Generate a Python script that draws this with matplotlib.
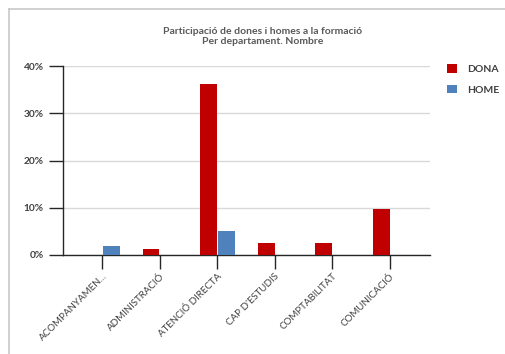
import matplotlib
matplotlib.use("Agg")
import matplotlib.pyplot as plt
from matplotlib.ticker import FuncFormatter
from matplotlib.lines import Line2D
from matplotlib.patches import Patch
import numpy as np

plt.rcParams['font.family'] = ['Lato', 'DejaVu Sans']

categories = ["ACOMPANYAMEN...", "ADMINISTRACIÓ", "ATENCIÓ DIRECTA",
              "CAP D'ESTUDIS", "COMPTABILITAT", "COMUNICACIÓ"]
dona = [0.0, 1.3, 36.2, 2.5, 2.5, 9.7]
home = [2.0, 0.0, 5.1, 0.0, 0.0, 0.0]
yticks = [0, 10, 20, 30, 40]

RED = "#C00000"
BLUE = "#4F81BD"
TXT = "#404040"

fig = plt.figure(figsize=(5.05, 3.54), dpi=100)
ax = fig.add_axes([63 / 505, 1 - 255 / 354, (430 - 63) / 505, (255 - 66) / 354])

x = np.arange(len(categories))
w = 0.29
d = [v / 100 for v in dona]
h = [v / 100 for v in home]
ax.bar(x - 0.148, d, width=w, color=RED, zorder=3)
ax.bar(x + 0.16, h, width=w, color=BLUE, zorder=3)

ax.set_xlim(-0.68, 5.7)
ax.set_ylim(0, 0.40)
ax.set_yticks([t / 100 for t in yticks])
ax.yaxis.set_major_formatter(FuncFormatter(lambda v, p: f"{v*100:.0f}%"))
ax.grid(axis="y", color="#d9d9d9", linewidth=1, zorder=0)

for s in ["top", "right"]:
    ax.spines[s].set_visible(False)
for s in ["left", "bottom"]:
    ax.spines[s].set_color("#262626")
    ax.spines[s].set_linewidth(1)

ax.tick_params(axis="y", direction="out", length=10, width=1, color="#262626",
               labelsize=7.3, labelcolor=TXT, pad=4)
ax.tick_params(axis="x", direction="out", length=10, width=1, color="#262626",
               labelsize=7, labelcolor=TXT, pad=2)
for lbl in ax.get_yticklabels():
    lbl.set_fontweight("bold")

ax.set_xticks(x)
ax.set_xticklabels(categories, rotation=45, ha="right", va="top",
                   rotation_mode="anchor")

fig.text(0.52, 1 - 31 / 354, "Participació de dones i homes a la formació",
         ha="center", va="center", fontsize=7.5, color="#595959", fontweight="bold")
fig.text(0.52, 1 - 42 / 354, "Per departament. Nombre",
         ha="center", va="center", fontsize=7.5, color="#595959", fontweight="bold")

handles = [Patch(facecolor=RED, edgecolor="none"), Patch(facecolor=BLUE, edgecolor="none")]
leg = fig.legend(handles, ["DONA", "HOME"], loc="upper left",
                 bbox_to_anchor=(438 / 505, 1 - 55 / 354), frameon=False,
                 fontsize=7.5, handlelength=0.9, handleheight=0.9,
                 labelspacing=1.0, handletextpad=1.0)
for t in leg.get_texts():
    t.set_color(TXT)
    t.set_fontweight("bold")

# outer frame lines (left and top)
fig.add_artist(Line2D([8.5 / 505, 8.5 / 505], [0, 1 - 8.5 / 354],
                      transform=fig.transFigure, color="#c8c8c8", linewidth=1.2))
fig.add_artist(Line2D([8.5 / 505, 1], [1 - 8.5 / 354, 1 - 8.5 / 354],
                      transform=fig.transFigure, color="#c8c8c8", linewidth=1.2))

fig.savefig("out.png", dpi=100, facecolor="white")
